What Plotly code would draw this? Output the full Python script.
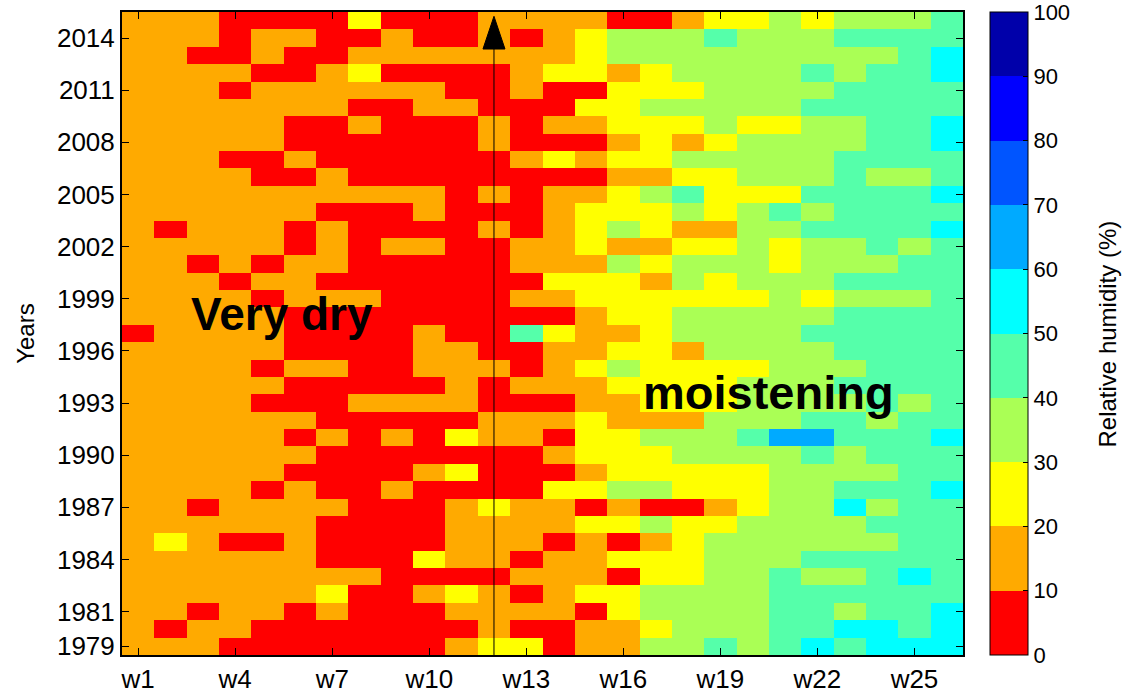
import plotly.graph_objects as go

# ---- data -------------------------------------------------------------
weeks = list(range(1, 27))                 # w1 .. w26
week_tick_vals = [1, 4, 7, 10, 13, 16, 19, 22, 25]
week_tick_text = ["w" + str(w) for w in week_tick_vals]
years = list(range(1979, 2016))            # 1979 .. 2015
year_tick_vals = [1979, 1981, 1984, 1987, 1990, 1993, 1996, 1999, 2002,
                  2005, 2008, 2011, 2014]

# class code of each cell, one string per year,
# listed from 2015 (top) down to 1979 (bottom), one letter per week
rh_codes_top_down = [
    "OOORRRRYR" "RROOOORRO" "YYGYGGGA",   # 2015
    "OOOROORRO" "RROROYGGG" "AGGGAAAA",   # 2014
    "OORRORROO" "OOOOOYGGG" "GGGGGGAC",   # 2013
    "OOOORROYR" "RRROYYOYG" "GGGAGAAC",   # 2012
    "OOOROOOOO" "ORRORRYYY" "GGGGAAAA",   # 2011
    "OOOOOOORR" "OORRRYYGG" "GGGAAAAA",   # 2010
    "OOOOORROR" "RROROOYYY" "GYYGGAAC",   # 2009
    "OOOOORRRR" "RRORRROYO" "YGGGGAAC",   # 2008
    "OOORRORRR" "RRROYOYYG" "GGGGAAAA",   # 2007
    "OOOORRORR" "RRRRRROOY" "YGGGAGGA",   # 2006
    "OOOOOOOOO" "OROROOYGA" "YYYAAAAC",   # 2005
    "OOOOOORRR" "ORRROYYYG" "YGAGAAAA",   # 2004
    "OROOORORR" "RROROYGYO" "OGGAAAAC",   # 2003
    "OOOOORORO" "ORROOYOOY" "YGYGGAGA",   # 2002
    "OOROROORR" "RRROOOGYG" "GGYGGGAA",   # 2001
    "OOOROORRR" "RRRRYYYOG" "YGGGAAAA",   # 2000
    "OOOOROOOR" "RRROOYYYY" "YYGYGGGA",   # 1999
    "OOOOORRRR" "RRRRROYYG" "GGGGAAAA",   # 1998
    "ROOOORRRR" "ORRAYOOYG" "GGGAAAAA",   # 1997
    "OOOOORRRR" "OORROOYYO" "GGGGAAAA",   # 1996
    "OOOOROORR" "OOOROYGYY" "YYGGGAAA",   # 1995
    "OOOOORRRR" "ROROOOYYY" "YGGGAAAA",   # 1994
    "OOOORRROO" "OORRROOYY" "YGGGGAGA",   # 1993
    "OOOOOORRR" "RROOOYOOO" "GGGAAGAA",   # 1992
    "OOOOORORO" "RYOORYYGG" "GALLAAAC",   # 1991
    "OOOOOORRR" "RRRROYYYG" "GGGAGAAA",   # 1990
    "OOOOORRRR" "OYRRROYYY" "YYGGGGAA",   # 1989
    "OOOORORRO" "RRRRYYGGY" "YYGGAAAC",   # 1988
    "OOROOOORR" "ROYOORORR" "OYGGCGAA",   # 1987
    "OOOOOORRR" "ROOOOYYGY" "YGGGGAAA",   # 1986
    "OYORRORRR" "ROOOROROY" "GGGGGGAA",   # 1985
    "OOOOOORRR" "YOOROOYYY" "GGGAAAAA",   # 1984
    "OOOOOOOOR" "RRROOORYY" "GGAGGACA",   # 1983
    "OOOOOOYRR" "OYOROYYGG" "GGAAAAAA",   # 1982
    "OOROORORR" "ROOOORYGG" "GGAAGAAC",   # 1981
    "OROORRRRR" "RRORROOYG" "GGAACCAC",   # 1980
    "OOORRRRRR" "ROYYROOGG" "AGACACCC",   # 1979
]

# estimated relative humidity (%) for each class (middle of the 10 % bin)
code_value = {"R": 5, "O": 15, "Y": 25, "G": 35, "A": 45,
              "C": 55, "L": 65, "M": 75, "B": 85, "N": 95}

cbar_ticks = list(range(0, 101, 10))
bin_colors = ["#FF0000", "#FFAA00", "#FFFF00", "#AAFF55", "#55FFAA",
              "#00FFFF", "#00AAFF", "#0055FF", "#0000FF", "#0000AA"]

arrow_week = 12

# ---- build ------------------------------------------------------------
z = [[code_value[c] for c in row] for row in reversed(rh_codes_top_down)]

colorscale = []
n = len(bin_colors)
for i, col in enumerate(bin_colors):
    colorscale.append([i / n, col])
    colorscale.append([(i + 1) / n, col])

FONT = "Liberation Sans, Arial, Helvetica, sans-serif"

fig = go.Figure()
fig.add_trace(go.Heatmap(
    x=weeks, y=years, z=z, zmin=0, zmax=100.0001,
    colorscale=colorscale, hoverinfo="skip",
    colorbar=dict(
        x=1.032, xanchor="left", xpad=0, ypad=0,
        y=0.5, yanchor="middle", len=1, lenmode="fraction",
        thickness=38, thicknessmode="pixels",
        outlinewidth=1, outlinecolor="black",
        tickmode="array",
        tickvals=cbar_ticks, ticktext=[str(t) for t in cbar_ticks],
        ticks="inside", ticklen=5, tickcolor="black",
        ticklabeloverflow="allow",
        tickfont=dict(family=FONT, size=22, color="black"),
    ),
))

y_lo, y_hi = years[0] - 0.5, years[-1] + 0.5
fig.add_shape(type="line", xref="x", yref="y",
              x0=arrow_week, x1=arrow_week, y0=y_lo, y1=y_hi - 2.1,
              line=dict(color="black", width=1))
fig.add_shape(type="path", xref="x", yref="y",
              path=f"M {arrow_week-0.34} {y_hi-2.13} L {arrow_week+0.34} {y_hi-2.13} "
                   f"L {arrow_week} {y_hi-0.25} Z",
              fillcolor="black", line=dict(color="black", width=1))

fig.add_annotation(x=5.46, y=1998.1, xref="x", yref="y", text="Very dry",
                   showarrow=False, xanchor="center", yanchor="middle",
                   font=dict(family=FONT, size=46, color="black", weight="bold"))
fig.add_annotation(x=20.48, y=1993.6, xref="x", yref="y", text="moistening",
                   showarrow=False, xanchor="center", yanchor="middle",
                   font=dict(family=FONT, size=47, color="black", weight="bold"))
fig.add_annotation(x=-0.115, y=0.5, xref="paper", yref="paper", text="Years",
                   showarrow=False, textangle=-90, xanchor="center", yanchor="middle",
                   font=dict(family=FONT, size=24, color="black"))
fig.add_annotation(x=1.1724, y=0.5, xref="paper", yref="paper",
                   text="Relative humidity (%)",
                   showarrow=False, textangle=-90, xanchor="center", yanchor="middle",
                   font=dict(family=FONT, size=24, color="black"))

axis_common = dict(showline=True, linecolor="black", linewidth=2, mirror="ticks",
                   ticks="inside", ticklen=7, tickcolor="black", showgrid=False,
                   zeroline=False, tickfont=dict(family=FONT, size=26, color="black"))
fig.update_xaxes(range=[0.5, 26.5], tickvals=week_tick_vals, ticktext=week_tick_text,
                 **axis_common)
fig.update_yaxes(range=[y_lo, y_hi], tickvals=year_tick_vals,
                 ticktext=[str(y) for y in year_tick_vals], **axis_common)

fig.update_layout(
    width=1128, height=695,
    margin=dict(l=122, r=165, t=12, b=40, autoexpand=False),
    paper_bgcolor="white", plot_bgcolor="white",
    font=dict(family=FONT, color="black"),
    showlegend=False,
)

# remove the default 8 px page margin so the figure fills the window exactly
fig.write_html("out.html",
               config={"displayModeBar": False},
               post_script="document.body.style.margin='0';"
                           "document.body.style.overflow='hidden';")
